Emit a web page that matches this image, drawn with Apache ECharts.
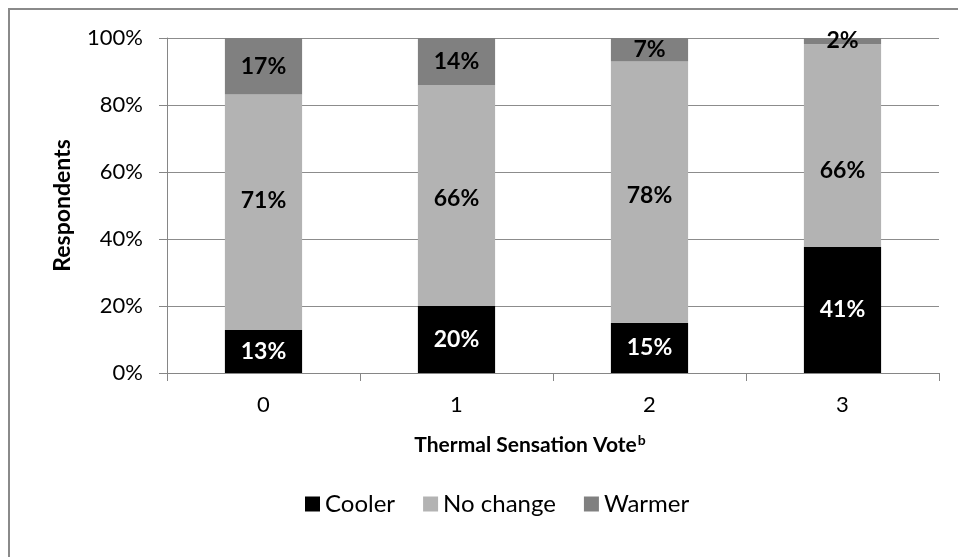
<!DOCTYPE html>
<html>
<head>
<meta charset="utf-8">
<script src="https://cdn.jsdelivr.net/npm/echarts@6/dist/echarts.min.js"></script>
<style>
  html, body { margin: 0; padding: 0; background: #ffffff; }
  #chart { width: 958px; height: 557px; }
</style>
</head>
<body>
<div id="chart"></div>
<script>
// Thermal sensation vote categories and preference shares (%)
const categories = ['0', '1', '2', '3'];
const cooler   = [13, 20, 15, 41];
const noChange = [71, 66, 78, 66];
const warmer   = [17, 14, 7, 2];
const yTicks   = [0, 20, 40, 60, 80, 100];

// 100% stacked: each column is scaled to its own total, labels keep the stated share
const totals = categories.map((_, i) => cooler[i] + noChange[i] + warmer[i]);

const FONT = 'Lato, "Open Sans", sans-serif';
const axisGray = '#868686';

// vertical nudges for the middle-segment labels (pixels)
const midLabelNudge = [-12, 3, 3, 25];

function seriesOf(name, arr, color, labelColor, nudge) {
  return {
    name: name,
    type: 'bar',
    stack: 'total',
    barWidth: '40%',
    data: arr.map((v, i) => ({
      value: v / totals[i] * 100,
      raw: v,
      label: nudge ? { offset: [0, nudge[i]] } : undefined
    })),
    itemStyle: { color: color },
    label: {
      show: true,
      position: 'inside',
      color: labelColor,
      fontFamily: FONT,
      fontWeight: 'bold',
      fontSize: 23,
      formatter: p => p.data.raw + '%'
    },
    emphasis: { disabled: true }
  };
}

const chart = echarts.init(document.getElementById('chart'), null, { renderer: 'canvas' });
chart.setOption({
  animation: false,
  backgroundColor: '#ffffff',
  textStyle: { fontFamily: FONT },
  graphic: [{
    type: 'rect',
    shape: { x: 9, y: 9, width: 960, height: 560 },
    style: { fill: 'none', stroke: '#8a8a8a', lineWidth: 2 },
    silent: true
  }],
  grid: { left: 167, right: 19, top: 38, bottom: 184, containLabel: false },
  legend: {
    bottom: 36,
    left: 300,
    itemWidth: 15,
    itemHeight: 15,
    itemGap: 28,
    itemTextGap: 6,
    icon: 'rect',
    textStyle: { fontFamily: FONT, fontSize: 24, color: '#000000' },
    data: ['Cooler', 'No change', 'Warmer']
  },
  xAxis: {
    type: 'category',
    data: categories,
    axisLine: { lineStyle: { color: axisGray, width: 1 } },
    axisTick: { show: true, alignWithLabel: false, length: 8, lineStyle: { color: axisGray } },
    axisLabel: { color: '#000000', fontSize: 22, fontFamily: FONT, margin: 21 },
    name: '{t|Thermal Sensation Vote}{s|b}',
    nameLocation: 'middle',
    nameGap: 60,
    nameTextStyle: {
      padding: [0, 46, 0, 0],
      rich: {
        t: { fontFamily: FONT, fontWeight: 'bold', fontSize: 21, color: '#000000' },
        s: { fontFamily: FONT, fontWeight: 'bold', fontSize: 14, color: '#000000', verticalAlign: 'top', padding: [0, 0, 10, 1] }
      }
    }
  },
  yAxis: {
    type: 'value',
    min: yTicks[0],
    max: yTicks[yTicks.length - 1],
    interval: yTicks[1] - yTicks[0],
    axisLine: { show: true, lineStyle: { color: axisGray, width: 1 } },
    axisTick: { show: true, length: 8, lineStyle: { color: axisGray } },
    splitLine: { show: true, lineStyle: { color: '#8c8c8c', width: 1 } },
    axisLabel: { color: '#000000', fontSize: 22, fontFamily: FONT, margin: 24, formatter: '{value}%' },
    name: 'Respondents',
    nameLocation: 'middle',
    nameGap: 93,
    nameTextStyle: { fontFamily: FONT, fontWeight: 'bold', fontSize: 23, color: '#000000' }
  },
  series: [
    seriesOf('Cooler', cooler, '#000000', '#ffffff'),
    seriesOf('No change', noChange, '#b3b3b3', '#000000', midLabelNudge),
    seriesOf('Warmer', warmer, '#808080', '#000000')
  ]
});
</script>
</body>
</html>
